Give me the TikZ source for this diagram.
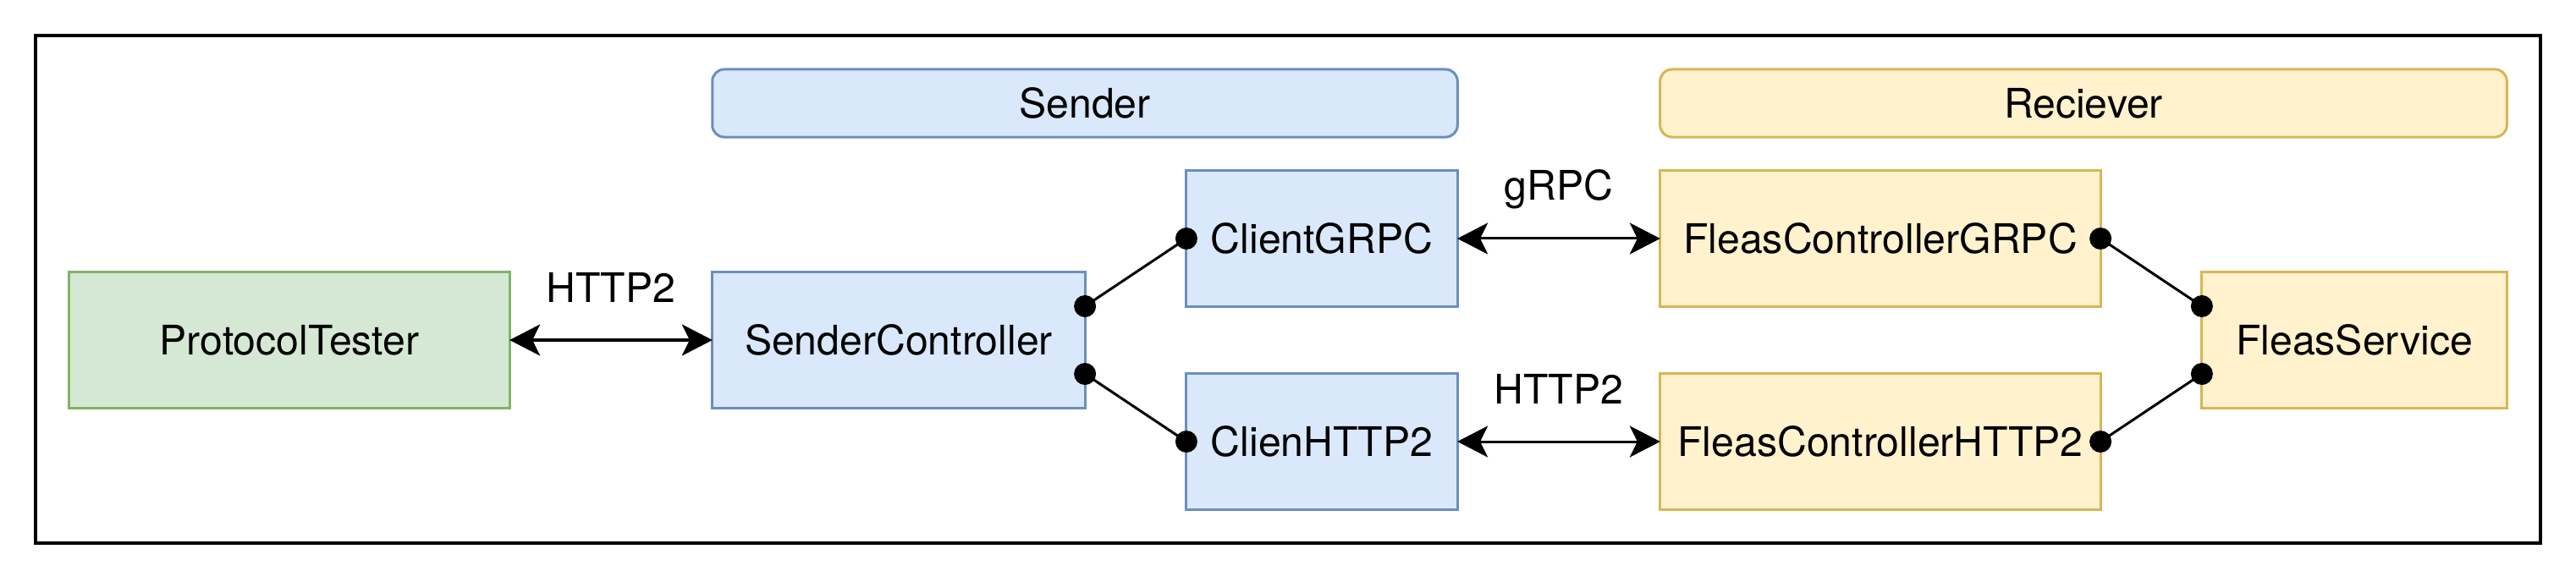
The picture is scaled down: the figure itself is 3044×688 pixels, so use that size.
\documentclass[tikz,border=0pt]{standalone}
\usepackage{fontspec}
\setmainfont{TeX Gyre Heros}
\usetikzlibrary{arrows.meta,calc}
\definecolor{bfill}{HTML}{DAE8FC}
\definecolor{bdraw}{HTML}{6C8EBF}
\definecolor{gfill}{HTML}{D5E8D4}
\definecolor{gdraw}{HTML}{82B366}
\definecolor{yfill}{HTML}{FFF2CC}
\definecolor{ydraw}{HTML}{D6B656}
\tikzset{
  box/.style={draw, line width=0.03cm, inner sep=0pt, outer sep=0pt, align=center,
    font=\fontsize{13.7pt}{16pt}\selectfont},
  bluebox/.style={box, fill=bfill, draw=bdraw},
  greenbox/.style={box, fill=gfill, draw=gdraw},
  yellowbox/.style={box, fill=yfill, draw=ydraw},
  header/.style={rounded corners=0.14cm},
  lbl/.style={anchor=base, inner sep=0pt, font=\fontsize{13.7pt}{16pt}\selectfont},
  arr/.style={line width=0.03cm,
    {Stealth[length=0.36cm,width=0.37cm,inset=0.09cm]}-{Stealth[length=0.36cm,width=0.37cm,inset=0.09cm]}},
  conn/.style={line width=0.03cm},
}
\begin{document}
\begin{tikzpicture}[x=0.01cm, y=-0.01cm]
\useasboundingbox (0,0) rectangle (3044,688);
\draw[line width=0.04cm] (42,42) rectangle (3002,642);
% headers
\node[bluebox, header, minimum width=8.8cm, minimum height=0.8cm] (hs) at (1282,122) {Sender};
\node[yellowbox, header, minimum width=10cm, minimum height=0.8cm] (hr) at (2462,122) {Reciever};
% boxes
\node[greenbox, minimum width=5.2cm, minimum height=1.6cm] (pt) at (342,402) {ProtocolTester};
\node[bluebox, minimum width=4.4cm, minimum height=1.6cm] (sc) at (1062,402) {SenderController};
\node[bluebox, minimum width=3.2cm, minimum height=1.6cm] (cg) at (1562,282) {ClientGRPC};
\node[bluebox, minimum width=3.2cm, minimum height=1.6cm] (ch) at (1562,522) {ClienHTTP2};
\node[yellowbox, minimum width=5.2cm, minimum height=1.6cm] (fcg) at (2222,282) {FleasControllerGRPC};
\node[yellowbox, minimum width=5.2cm, minimum height=1.6cm] (fch) at (2222,522) {FleasControllerHTTP2};
\node[yellowbox, minimum width=3.6cm, minimum height=1.6cm] (fs) at (2782,402) {FleasService};
% arrows
\draw[arr] (pt.east) -- (sc.west);
\draw[arr] (cg.east) -- (fcg.west);
\draw[arr] (ch.east) -- (fch.west);
\node[lbl] (l1) at ($(pt.east)!0.5!(sc.west)+(0,-45)$) {HTTP2};
\node[lbl] (l2) at ($(cg.east)!0.5!(fcg.west)+(0,-45)$) {gRPC};
\node[lbl] (l3) at ($(ch.east)!0.5!(fch.west)+(0,-45)$) {HTTP2};
% dot connectors
\coordinate (sc1) at ($(sc.north east)!0.25!(sc.south east)$);
\coordinate (sc2) at ($(sc.north east)!0.75!(sc.south east)$);
\coordinate (fs1) at ($(fs.north west)!0.25!(fs.south west)$);
\coordinate (fs2) at ($(fs.north west)!0.75!(fs.south west)$);
\draw[conn] (sc1) -- (cg.west);
\draw[conn] (sc2) -- (ch.west);
\draw[conn] (fcg.east) -- (fs1);
\draw[conn] (fch.east) -- (fs2);
\foreach \p in {sc1,sc2,fs1,fs2,cg.west,ch.west,fcg.east,fch.east}
  \fill (\p) circle (0.13cm);
\end{tikzpicture}
\end{document}
